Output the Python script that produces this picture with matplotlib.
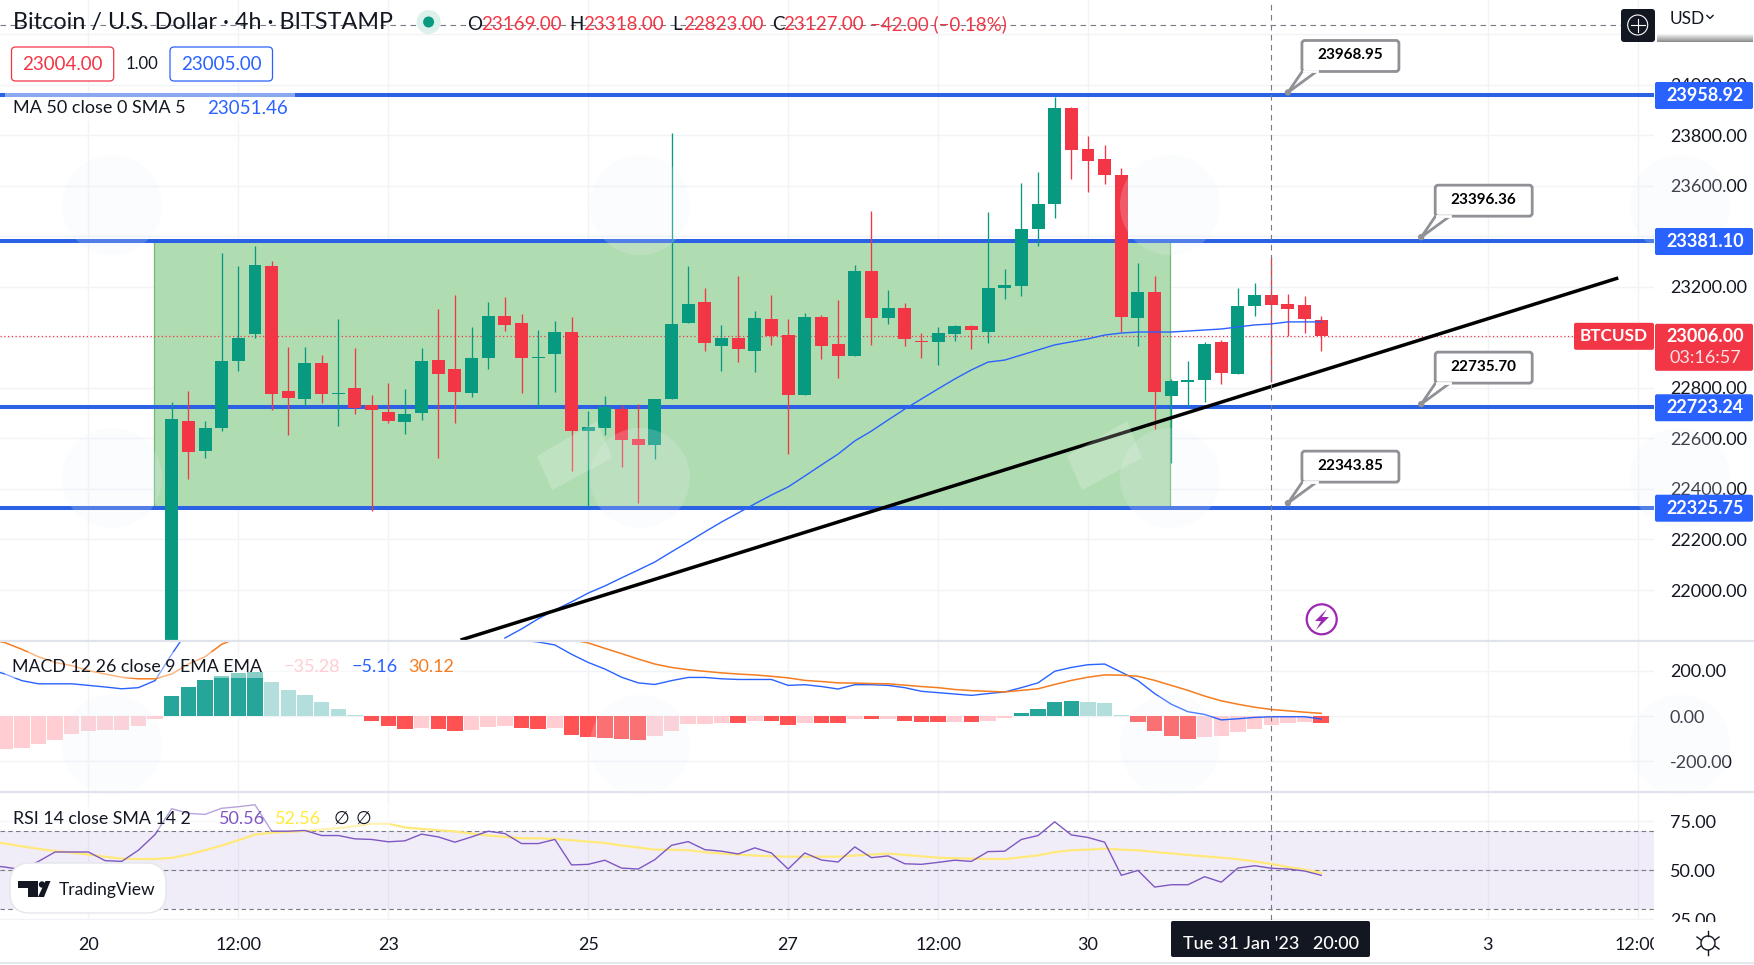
import matplotlib
matplotlib.use('Agg')
import matplotlib.pyplot as plt
from matplotlib.patches import Circle, FancyBboxPatch, Polygon, Rectangle

plt.rcParams['font.family'] = ['Lato', 'DejaVu Sans']

# candles, 4h bars, index 0 is the first one on the price pane
opens = [21700, 22667, 22550, 22641, 22906, 23013, 23281, 22786, 22756, 22897,
         22777, 22798, 22734, 22703, 22665, 22700, 22909, 22873, 22779, 22918,
         23083, 23055, 22918, 22934, 23023, 22629, 22643, 22715, 22596, 22574,
         22756, 23055, 23138, 22964, 22996, 22946, 23071, 23008, 22771, 23079,
         22972, 22928, 23261, 23075, 23118, 22986, 22980, 23015, 23043, 23023,
         23197, 23205, 23427, 23526, 23906, 23747, 23704, 23641, 23075, 23178,
         22766, 22822, 22833, 22980, 22856, 23122, 23169, 23130, 23126, 23067]
highs = [22746, 22786, 22670, 23332, 23281, 23360, 23304, 22960, 22963, 22932,
         23071, 22956, 22770, 22818, 22794, 22956, 23114, 23166, 23039, 23138,
         23158, 23091, 23027, 23063, 23079, 22707, 22766, 22734, 22738, 22757,
         23809, 23281, 23194, 23047, 23241, 23103, 23166, 23071, 23095, 23087,
         23146, 23285, 23498, 23186, 23134, 23019, 23039, 23047, 23047, 23494,
         23269, 23609, 23653, 23951, 23910, 23795, 23763, 23672, 23296, 23241,
         22837, 22905, 22980, 22988, 23194, 23213, 23318, 23170, 23162, 23083]
lows = [21600, 22439, 22521, 22628, 22866, 22997, 22711, 22613, 22728, 22740,
        22649, 22696, 22312, 22661, 22616, 22671, 22521, 22661, 22763, 22873,
        23025, 22779, 22724, 22782, 22471, 22328, 22613, 22485, 22343, 22518,
        22756, 23055, 22944, 22865, 22901, 22861, 22968, 22537, 22771, 22913,
        22841, 22928, 22968, 23051, 22964, 22917, 22889, 22984, 22952, 22976,
        23150, 23162, 23360, 23474, 23625, 23577, 23605, 23023, 22964, 22636,
        22504, 22727, 22746, 22814, 22853, 23083, 22823, 23004, 23019, 22944]
closes = [22675, 22546, 22643, 22905, 22996, 23285, 22775, 22760, 22897, 22775,
          22781, 22720, 22711, 22669, 22695, 22905, 22855, 22783, 22920, 23083,
          23048, 22918, 22923, 23023, 22629, 22647, 22723, 22593, 22572, 22754,
          23051, 23130, 22976, 22996, 22952, 23075, 23004, 22771, 23079, 22964,
          22928, 23261, 23075, 23118, 22992, 22981, 23019, 23043, 23027, 23194,
          23209, 23427, 23526, 23906, 23740, 23696, 23641, 23079, 23178, 22782,
          22826, 22833, 22972, 22857, 23122, 23166, 23127, 23114, 23071, 23006]

# moving average 50, starts at bar 20 where it comes up out of the pane
ma_start = 20
ma50 = [21810, 21846, 21886, 21921, 21953, 21988, 22016, 22048, 22079, 22111,
        22151, 22190, 22230, 22269, 22305, 22341, 22376, 22408, 22451, 22495,
        22538, 22590, 22629, 22673, 22716, 22756, 22796, 22835, 22871, 22902,
        22910, 22930, 22950, 22970, 22982, 22994, 23009, 23017, 23021, 23021,
        23021, 23025, 23029, 23033, 23041, 23049, 23053, 23061, 23061, 23061]

# support / resistance levels and the notes on them
levels = [23958.92, 23381.10, 22723.24, 22325.75]
note_bars = [67, 75, 75, 67]
note_prices = [23968.95, 23396.36, 22735.70, 22343.85]
box_bars = [-1.06, 59.9]
box_prices = [22325.75, 23381.10]
trend_bars = [17.34, 86.83]
trend_prices = [21802, 23235]
last_price = 23006.00
cross_bar = 66
cross_price = 24235

# indicators start 11 bars before the first candle
ind_start = -11
macd_hist = [-150, -145, -141, -122, -104, -78, -65, -61, -60, -43, -13,
             87, 130, 157, 178, 188, 193, 149, 116, 91, 61, 30, 4,
             -20, -43, -55, -54, -57, -64, -61, -49, -46, -52, -59, -54,
             -83, -94, -95, -103, -104, -90, -65, -36, -35, -29, -30, -20,
             -21, -39, -29, -30, -31, -12, -13, -12, -23, -26, -27, -26, -28,
             -20, -9, 12, 30, 61, 65, 61, 58, 4, -26, -64, -87, -99, -91, -90,
             -70, -57, -39, -30, -26, -29]
macd_line = [207, 185, 156, 142, 142, 142, 135, 128, 120, 125, 156,
             272, 380, 440, 480, 510, 520, 520, 510, 495, 480, 460, 440,
             420, 405, 390, 380, 372, 365, 358, 350, 342, 334, 326, 313,
             272, 236, 207, 171, 146, 139, 156, 170, 170, 164, 161, 161,
             161, 135, 138, 130, 119, 138, 138, 135, 125, 109, 103, 97, 91,
             99, 106, 125, 146, 197, 214, 226, 229, 193, 156, 99, 52, 19, 7,
             -17, -12, -6, -3, -3, -3, -13]
macd_signal = [337, 323, 294, 261, 236, 222, 200, 185, 171, 164, 164,
               185, 229, 261, 316, 345, 380, 410, 430, 445, 455, 460, 462,
               460, 455, 448, 440, 432, 422, 412, 400, 388, 375, 362, 350,
               336, 322, 298, 275, 251, 229, 214, 204, 197, 190, 185, 181,
               175, 168, 157, 152, 146, 145, 143, 142, 136, 130, 125, 117, 112,
               109, 106, 113, 120, 139, 157, 171, 181, 180, 175, 157, 135, 113,
               88, 67, 52, 39, 29, 23, 17, 12]
rsi = [52.5, 51.5, 50.2, 54.4, 59.2, 59.2, 59.2, 54.8, 54.4, 60.1, 68.1,
       81.3, 78.9, 78.4, 81.5, 82.3, 83.3, 69.8, 69.8, 70.2, 67.6, 67.6, 65.9,
       65.6, 64.4, 64.9, 68.3, 66.9, 64.2, 66.9, 69.8, 68.6, 63.5, 63.5, 65.6,
       52.6, 52.9, 55.0, 51.0, 50.5, 55.3, 62.6, 64.5, 60.4, 59.6, 58.2, 61.3,
       58.7, 50.5, 58.7, 55.1, 54.1, 61.8, 56.3, 57.2, 53.2, 52.9, 53.9, 55.0, 54.4,
       59.4, 59.6, 65.6, 67.6, 74.6, 67.9, 66.6, 64.2, 47.3, 49.8, 41.3, 42.5, 42.5,
       46.6, 43.8, 51.0, 52.2, 50.9, 50.5, 49.5, 47.3]
rsi_ma = [64.2, 63.5, 62.1, 60.8, 59.7, 58.9, 57.9, 56.8, 55.8, 55.6, 55.6,
          56.2, 57.9, 60.1, 62.5, 65.2, 68.1, 69.0, 69.5, 70.0, 70.7, 71.4, 72.4,
          73.6, 73.6, 71.7, 71.0, 70.3, 69.7, 68.6, 67.6, 66.9, 66.2, 66.2, 65.9,
          65.2, 64.5, 63.8, 62.5, 61.5, 60.4, 60.3, 60.1, 59.1, 58.4, 57.9, 57.4,
          57.0, 56.8, 56.8, 56.8, 56.8, 57.4, 57.9, 58.4, 57.7, 57.0, 56.3, 56.0, 55.8,
          55.6, 55.6, 56.5, 57.5, 59.1, 60.1, 60.4, 60.9, 60.4, 60.1, 59.2, 58.5, 57.7,
          57.0, 56.3, 55.5, 54.4, 53.1, 51.5, 50.2, 48.5]

# axis ticks, the labels hidden behind the price tags stay empty
price_ticks = [22000, 22200, 22400, 22600, 22800, 23000, 23200, 23400, 23600, 23800, 24000, 24200]
price_labels = ['22000.00', '22200.00', '22400.00', '22600.00', '22800.00', '', '23200.00', '',
                '23600.00', '23800.00', '24000.00', '']
macd_ticks = [200, 0, -200]
rsi_ticks = [75, 50, 25]
time_bars = [-5, 4, 13, 25, 37, 46, 55, 79, 88]
time_labels = ['20', '12:00', '23', '25', '27', '12:00', '30', '3', '12:00']

UP = '#089981'
DOWN = '#F23645'
LINE_BLUE = '#2B62E3'
GRID = '#F2F3F7'
GREY_TEXT = '#131722'
W, H = 1754, 965
PANE_R = 1654
BAR0, BAR_W = 171.7, 16.66
xlim = (-BAR0 / BAR_W, (PANE_R - BAR0) / BAR_W)

fig = plt.figure(figsize=(W / 100, H / 100), dpi=100, facecolor='white')


def pane(top, bottom, ylim):
    ax = fig.add_axes([0, 1 - bottom / H, PANE_R / W, (bottom - top) / H])
    ax.set_xlim(*xlim)
    ax.set_ylim(*ylim)
    for s in ax.spines.values():
        s.set_visible(False)
    ax.yaxis.tick_right()
    ax.tick_params(length=0, labelsize=13, labelcolor=GREY_TEXT, pad=11.5)
    ax.set_xticks(time_bars)
    ax.tick_params(axis='x', labelbottom=False)
    ax.grid(True, color=GRID, lw=1)
    ax.set_axisbelow(True)
    return ax


ax = pane(0, 640, (21802.2, 24334.9))
ax2 = pane(642, 791, (-330, 326))
ax3 = pane(793, 920, (24.5, 89.3))
tax = fig.add_axes([0, 1 - 962 / H, PANE_R / W, 41 / H])
tax.set_xlim(*xlim)
tax.set_ylim(0, 1)
tax.axis('off')
ui = fig.add_axes([0, 0, 1, 1], zorder=10)
ui.set_xlim(0, W)
ui.set_ylim(H, 0)
ui.axis('off')


def px(bar, price):
    x = BAR0 + BAR_W * bar
    y = 640 * (24334.9 - price) / (24334.9 - 21802.2)
    return x, y


# price pane
ax.set_yticks(price_ticks)
ax.set_yticklabels(price_labels)
ax.fill_between(box_bars, box_prices[0], box_prices[1], facecolor='#ADDBAE', edgecolor='none', alpha=0.96, zorder=1)
ax.vlines(box_bars, box_prices[0], box_prices[1], color='#6DBB74', lw=0.9, zorder=1.1)
ax.axhline(last_price, color=DOWN, lw=0.9, ls=(0, (1, 2)), zorder=1.2)
for level in levels:
    ax.axhline(level, color=LINE_BLUE, lw=2.9, zorder=1.5)

bars = list(range(len(opens)))
cols = [UP if c >= o else DOWN for o, c in zip(opens, closes)]
ax.vlines(bars, lows, highs, colors=cols, lw=0.95, zorder=2)
ax.bar(bars, [c - o for o, c in zip(opens, closes)], bottom=opens, width=0.78, color=cols, lw=0, zorder=3)
ax.plot(range(ma_start, ma_start + len(ma50)), ma50, color='#2962FF', lw=1, zorder=4)
ax.plot(trend_bars, trend_prices, color='black', lw=2.5, zorder=5, solid_capstyle='butt')

# macd pane
ind_bars = list(range(ind_start, ind_start + len(rsi)))
hist_cols = []
for i, h in enumerate(macd_hist):
    prev = macd_hist[i - 1] if i > 0 else h - 1
    if h >= 0:
        hist_cols.append('#26A69A' if h > prev else '#B2DFDB')
    else:
        hist_cols.append('#FF5252' if h < prev else '#FFCDD2')
ax2.set_yticks(macd_ticks)
ax2.set_yticklabels(['200.00', '0.00', '-200.00'])
ax2.bar(ind_bars, macd_hist, width=0.93, color=hist_cols, lw=0, zorder=2)
ax2.plot(ind_bars, macd_line, color='#2962FF', lw=1, zorder=3)
ax2.plot(ind_bars, macd_signal, color='#F57C1F', lw=1.1, zorder=3)

# rsi pane
ax3.set_yticks(rsi_ticks)
ax3.set_yticklabels(['%.2f' % v for v in rsi_ticks])
ax3.axhspan(30, 70, color='#7E57C2', alpha=0.1, lw=0, zorder=1)
for v in (70, 50, 30):
    ax3.axhline(v, color='#787B86', lw=0.8, ls=(0, (4, 3)), zorder=1.5)
ax3.plot(ind_bars, rsi_ma, color='#FFE97A', lw=1.6, zorder=2)
ax3.plot(ind_bars, rsi, color='#7E57C2', lw=1, zorder=3)

# crosshair
for a in (ax, ax2, ax3):
    a.axvline(cross_bar, color='#787B86', lw=0.8, ls=(0, (5, 4)), zorder=6)
ax.axhline(cross_price, color='#787B86', lw=0.8, ls=(0, (5, 4)), zorder=6)

# time axis, the last label gets cut at the price scale
for b, label in zip(time_bars, time_labels):
    tax.text(b, 0.42, label, ha='center', va='center', fontsize=13, color=GREY_TEXT, clip_on=True)

# watermark on top of the panes
for wx in (112, 640, 1170, 1680):
    for wy in (205, 478, 745):
        ui.add_patch(Circle((wx, wy), 50, fc='#EAF0FC', ec='none', alpha=0.2, zorder=1))
    ui.add_patch(Polygon([(wx - 103, 456), (wx - 43, 421), (wx - 28, 458), (wx - 88, 490)],
                         fc='white', ec='none', alpha=0.2, zorder=1))

# pane dividers
ui.plot([0, W], [641, 641], color='#E0E3EB', lw=1.6, zorder=2)
ui.plot([0, W], [792, 792], color='#E0E3EB', lw=1.6, zorder=2)
ui.plot([0, W], [963, 963], color='#E0E3EB', lw=1.2, zorder=2)
ui.add_patch(Rectangle((PANE_R, 922), W - PANE_R, 40, fc='white', ec='none', zorder=2))

# legends have a see-through backing
for bx, by, bw, bh in [(5, 93, 290, 30), (5, 652, 455, 26), (5, 804, 385, 26)]:
    ui.add_patch(Rectangle((bx, by), bw, bh, fc='white', ec='none', alpha=0.45, zorder=3))

ui.text(13, 23, 'Bitcoin / U.S. Dollar · 4h · BITSTAMP', fontsize=16.8, color=GREY_TEXT, va='center', zorder=5)
ui.add_patch(Circle((428.6, 22), 12, fc='#DDF1EC', ec='none', zorder=4))
ui.add_patch(Circle((428.6, 22), 5.5, fc=UP, ec='none', zorder=5))
for x, off, lab, val in [(467, 14, 'O', '23169.00'), (569, 14, 'H', '23318.00'),
                         (672, 11, 'L', '22823.00'), (772, 11, 'C', '23127.00')]:
    ui.text(x, 24, lab, fontsize=13.5, color=GREY_TEXT, va='center', zorder=5)
    ui.text(x + off, 24, val, fontsize=13.5, color=DOWN, va='center', zorder=5)
ui.text(870, 24, '−42.00 (−0.18%)', fontsize=13.5, color=DOWN, va='center', zorder=5)

for x0, x1, col, val in [(11.5, 113.7, DOWN, '23004.00'), (170, 272.5, '#2962FF', '23005.00')]:
    ui.add_patch(FancyBboxPatch((x0 + 3, 50), x1 - x0 - 6, 28, boxstyle='round,pad=3,rounding_size=4',
                                fc='white', ec=col, lw=0.9, zorder=5))
    ui.text((x0 + x1) / 2, 64, val, fontsize=13.5, color=col, ha='center', va='center', zorder=6)
ui.text(142, 64, '1.00', fontsize=12, color=GREY_TEXT, ha='center', va='center', zorder=6)

ui.text(13, 108, 'MA 50 close 0 SMA 5', fontsize=13, color=GREY_TEXT, va='center', zorder=5)
ui.text(207, 108, '23051.46', fontsize=13.5, color='#2962FF', va='center', zorder=5)

ui.text(12.5, 667, 'MACD 12 26 close 9 EMA EMA', fontsize=12.8, color=GREY_TEXT, va='center', zorder=5)
ui.text(284, 667, '−35.28', fontsize=13, color='#FFCDD2', va='center', zorder=5)
ui.text(352, 667, '−5.16', fontsize=13, color='#2962FF', va='center', zorder=5)
ui.text(408.5, 667, '30.12', fontsize=13, color='#F57C1F', va='center', zorder=5)

ui.text(13, 819, 'RSI 14 close SMA 14 2', fontsize=12.8, color=GREY_TEXT, va='center', zorder=5)
ui.text(219, 819, '50.56', fontsize=13, color='#7E57C2', va='center', zorder=5)
ui.text(275, 819, '52.56', fontsize=13, color='#FFEB3B', va='center', zorder=5)
ui.text(334, 819, '∅', fontsize=13, color=GREY_TEXT, va='center', zorder=5)
ui.text(356, 819, '∅', fontsize=13, color=GREY_TEXT, va='center', zorder=5)

# logo pill
ui.add_patch(FancyBboxPatch((20, 873), 136, 30, boxstyle='round,pad=10,rounding_size=20',
                            fc='white', ec='#E4E6EC', lw=1, zorder=5))
ui.add_patch(Polygon([(18, 881), (38, 881), (38, 897), (28, 897), (28, 888), (18, 888)], fc='#131722', ec='none', zorder=6))
ui.add_patch(Circle((42, 884.5), 3.2, fc='#131722', ec='none', zorder=6))
ui.add_patch(Polygon([(38, 897), (45.5, 881), (50.5, 881), (44, 897)], fc='#131722', ec='none', zorder=6))
ui.text(59, 890, 'TradingView', fontsize=12.5, color=GREY_TEXT, va='center', zorder=6)

# notes on the levels
for b, p in zip(note_bars, note_prices):
    tx, ty = px(b, p)
    ui.add_patch(Polygon([(tx + 15, ty - 22), (tx + 30, ty - 22), (tx, ty)], fc='white', ec='#8F9197', lw=2, zorder=6))
    ui.add_patch(FancyBboxPatch((tx + 16, ty - 50), 93, 27, boxstyle='round,pad=2,rounding_size=3',
                                fc='white', ec='#8F9197', lw=2, zorder=6))
    ui.plot([tx + 16, tx + 29], [ty - 21, ty - 21], color='white', lw=2, zorder=6.5)
    ui.add_patch(Circle((tx, ty), 3.2, fc='#8F9197', ec='none', zorder=7))
    ui.text(tx + 62, ty - 37, '%.2f' % p, fontsize=11, fontweight='bold', color='black', ha='center', va='center', zorder=7)

# blue price tags on the scale
for level in levels:
    _, y = px(0, level)
    ui.add_patch(FancyBboxPatch((PANE_R + 2, y - 12), W - PANE_R - 4, 25, boxstyle='round,pad=1,rounding_size=2',
                                fc='#2962FF', ec='none', zorder=6))
    ui.text(1705, y + 0.5, '%.2f' % level, fontsize=13, fontweight='bold', color='white', ha='center', va='center', zorder=7)

# last price tag
_, y = px(0, last_price)
ui.add_patch(FancyBboxPatch((1576, y - 11), 76, 23, boxstyle='round,pad=2,rounding_size=2', fc=DOWN, ec='none', zorder=6))
ui.add_patch(FancyBboxPatch((PANE_R + 2, y - 11), W - PANE_R - 4, 45, boxstyle='round,pad=1,rounding_size=2', fc=DOWN, ec='none', zorder=6))
ui.text(1614, y + 0.5, 'BTCUSD', fontsize=12.3, fontweight='bold', color='white', ha='center', va='center', zorder=7)
ui.text(1705, y + 0.5, '%.2f' % last_price, fontsize=13, fontweight='bold', color='white', ha='center', va='center', zorder=7)
ui.text(1705, y + 22, '03:16:57', fontsize=13, color='#FDE3E5', ha='center', va='center', zorder=7)

# crosshair date
ui.add_patch(FancyBboxPatch((1173, 923), 195, 32, boxstyle='round,pad=2,rounding_size=2', fc='#131722', ec='none', zorder=6))
ui.text(1271, 944, "Tue 31 Jan '23   20:00", fontsize=13, fontweight='medium', color='white', ha='center', va='center', zorder=7)

# top right buttons
ui.add_patch(FancyBboxPatch((1623, 11), 30, 29, boxstyle='round,pad=2,rounding_size=3', fc='#131722', ec='none', zorder=6))
ui.add_patch(Circle((1637.7, 25), 10, fc='none', ec='white', lw=0.8, zorder=7))
ui.plot([1631, 1644.5], [25, 25], color='white', lw=0.8, zorder=7)
ui.plot([1637.7, 1637.7], [18.5, 31.5], color='white', lw=0.8, zorder=7)
ui.add_patch(Rectangle((PANE_R + 3, 9), W - PANE_R - 4, 24, fc='white', ec='none', zorder=6))
for i in range(9):
    g = 1 - 0.055 * i
    ui.add_patch(Rectangle((PANE_R + 3, 33 + i), W - PANE_R - 4, 1, fc=(g, g, g), ec='none', zorder=6))
ui.text(1670, 18.5, 'USD', fontsize=12.5, color=GREY_TEXT, va='center', zorder=7)
ui.plot([1707, 1710, 1713], [15.5, 18.5, 15.5], color=GREY_TEXT, lw=1, zorder=7)

# lightning mark
ui.add_patch(Circle((1321.7, 619.3), 15, fc='white', ec='#9C27B0', lw=1.6, zorder=6))
ui.add_patch(Polygon([(1327, 609), (1315, 621), (1321, 621), (1316, 630), (1329, 617), (1322, 617)],
                     fc='#9C27B0', ec='none', zorder=7))

# settings gear
ui.add_patch(Circle((1708, 943), 7, fc='white', ec='#131722', lw=1, zorder=7))
ui.plot([1708, 1708], [931, 936], color='#131722', lw=1, zorder=7)
ui.plot([1708, 1708], [950, 955], color='#131722', lw=1, zorder=7)
ui.plot([1697, 1701], [937, 940], color='#131722', lw=1, zorder=7)
ui.plot([1715, 1719], [940, 937], color='#131722', lw=1, zorder=7)
ui.plot([1697, 1701], [949, 946], color='#131722', lw=1, zorder=7)
ui.plot([1715, 1719], [946, 949], color='#131722', lw=1, zorder=7)

fig.savefig('out.png', dpi=100)
